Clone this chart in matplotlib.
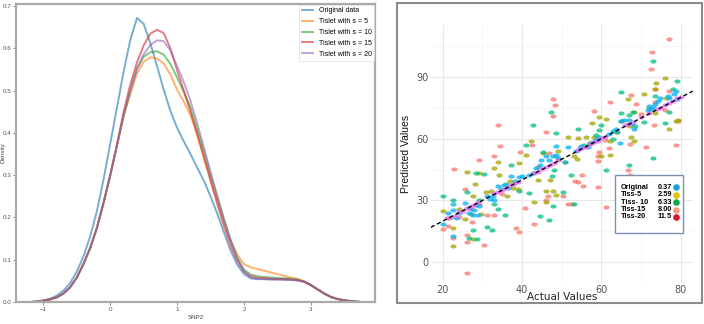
import matplotlib
matplotlib.use("Agg")
import matplotlib.pyplot as plt
from matplotlib.patches import Rectangle
from matplotlib.path import Path
from matplotlib.transforms import Affine2D

# ---------------- left panel: density curves ----------------
snp_x = [-1.2, -1.1, -1.0, -0.9, -0.8, -0.7, -0.6, -0.5, -0.4, -0.3,
         -0.2, -0.1, 0.0, 0.1, 0.2, 0.3, 0.4, 0.5, 0.6, 0.7,
         0.8, 0.9, 1.0, 1.1, 1.2, 1.3, 1.4, 1.5, 1.6, 1.7,
         1.8, 1.9, 2.0, 2.1, 2.2, 2.3, 2.4, 2.5, 2.6, 2.7,
         2.8, 2.9, 3.0, 3.1, 3.2, 3.3, 3.4, 3.5, 3.6, 3.72]

dens_original = [0.0, 0.001, 0.004, 0.008, 0.015, 0.027, 0.045, 0.072, 0.108, 0.155,
                 0.215, 0.29, 0.375, 0.46, 0.545, 0.62, 0.672, 0.658, 0.612, 0.558,
                 0.502, 0.452, 0.412, 0.38, 0.35, 0.318, 0.287, 0.25, 0.209, 0.165,
                 0.122, 0.088, 0.066, 0.056, 0.054, 0.054, 0.054, 0.054, 0.054, 0.053,
                 0.051, 0.048, 0.040, 0.030, 0.020, 0.012, 0.007, 0.004, 0.002, 0.0005]

dens_s5 = [0.0, 0.001, 0.003, 0.006, 0.011, 0.020, 0.035, 0.058, 0.090, 0.128,
           0.175, 0.235, 0.300, 0.370, 0.440, 0.492, 0.540, 0.568, 0.579, 0.576,
           0.564, 0.538, 0.502, 0.474, 0.442, 0.397, 0.343, 0.290, 0.240, 0.190,
           0.146, 0.112, 0.090, 0.082, 0.078, 0.074, 0.070, 0.066, 0.062, 0.058,
           0.055, 0.049, 0.040, 0.030, 0.020, 0.012, 0.007, 0.004, 0.002, 0.0005]

dens_s10 = [0.0, 0.001, 0.003, 0.006, 0.011, 0.020, 0.035, 0.058, 0.090, 0.128,
            0.175, 0.235, 0.300, 0.370, 0.440, 0.500, 0.552, 0.580, 0.591, 0.593,
            0.585, 0.563, 0.531, 0.497, 0.460, 0.410, 0.358, 0.302, 0.248, 0.195,
            0.146, 0.105, 0.077, 0.065, 0.061, 0.059, 0.058, 0.057, 0.056, 0.055,
            0.053, 0.048, 0.040, 0.030, 0.020, 0.012, 0.007, 0.004, 0.002, 0.0005]

dens_s15 = [0.0, 0.001, 0.003, 0.006, 0.011, 0.020, 0.035, 0.058, 0.090, 0.128,
            0.175, 0.235, 0.300, 0.372, 0.450, 0.515, 0.567, 0.607, 0.635, 0.644,
            0.636, 0.600, 0.548, 0.500, 0.450, 0.397, 0.343, 0.287, 0.232, 0.180,
            0.134, 0.097, 0.072, 0.061, 0.057, 0.056, 0.055, 0.054, 0.054, 0.053,
            0.052, 0.048, 0.040, 0.030, 0.020, 0.012, 0.007, 0.004, 0.002, 0.0005]

dens_s20 = [0.0, 0.001, 0.003, 0.006, 0.011, 0.020, 0.035, 0.058, 0.090, 0.128,
            0.175, 0.235, 0.300, 0.370, 0.442, 0.502, 0.552, 0.586, 0.608, 0.619,
            0.617, 0.595, 0.558, 0.520, 0.476, 0.423, 0.366, 0.308, 0.252, 0.197,
            0.146, 0.102, 0.072, 0.058, 0.055, 0.054, 0.053, 0.053, 0.052, 0.052,
            0.051, 0.048, 0.040, 0.030, 0.020, 0.012, 0.007, 0.004, 0.002, 0.0005]

density_series = [
    ("Original data", dens_original, "#1f77b4"),
    ("Tislet with s = 5", dens_s5, "#ff7f0e"),
    ("Tislet with s = 10", dens_s10, "#2ca02c"),
    ("Tislet with s = 15", dens_s15, "#d62728"),
    ("Tislet with s = 20", dens_s20, "#9467bd"),
]

# ---------------- right panel: predicted vs actual ----------------
pts_salmon = [(20, 16), (21.4, 17.6), (22.7, 12), (22.8, 45.2), (25.5, 35.6), (26, 13.5),
              (26, 9.8), (26, -5), (27.4, 19.5), (29.1, 49.4), (29.2, 28.3), (30.3, 8.5),
              (31.1, 23.2), (33, 23.2), (33, 51.4), (33.9, 66.7), (34.5, 56.2), (38.5, 16.7),
              (39.2, 14.8), (39.5, 53.5), (40.8, 26.2), (42.4, 56.7), (42.9, 18.4), (45.9, 63),
              (45.9, 30.4), (46.5, 32), (46.9, 53), (47.8, 79.4), (48.3, 76.2), (47.8, 71),
              (50.3, 32), (51.5, 28.3), (52.6, 28.2), (53.4, 39.3), (54.2, 38.8), (55.4, 37.2),
              (55.1, 42.4), (58.1, 73.4), (59.2, 36.6), (59.1, 51.4), (59.2, 49), (59.5, 53.6),
              (60.8, 59.4), (61.2, 26.7), (62, 55.2), (62.2, 77.8), (66.6, 44.9), (67.1, 42.5),
              (66.6, 67.1), (67.3, 57.2), (67.5, 81.2), (68.7, 76.6), (71.1, 56), (72.6, 93.7),
              (72.8, 101.8), (73.2, 66.5), (73.4, 84.2), (73.5, 77.9), (75.9, 73.9), (77, 83),
              (77.1, 108.2), (78.7, 57), (79.2, 68.5), (24, 22), (27, 26), (35, 33),
              (44, 46), (57, 58), (64, 63), (70, 72)]

pts_olive = [(20, 25), (21.7, 21.6), (22.5, 7.9), (22.7, 16.7), (25.5, 20.8), (26, 44),
             (27, 23.5), (27.6, 11.1), (27.6, 32.4), (28.2, 38.2), (29.1, 43.3), (29.7, 23.5),
             (32.2, 34.5), (32.9, 45.7), (33.9, 48.6), (34.1, 42.5), (36.1, 32), (37, 39.3),
             (37.6, 36.1), (38.9, 35.6), (39.3, 48.1), (41, 51.9), (42.3, 58.6), (42.9, 29.1),
             (44, 40.1), (45.2, 53), (46, 34.5), (45.9, 29.1), (47, 40), (47.7, 34.5),
             (49, 53.8), (49.2, 50), (48.6, 32.9), (50.7, 48.5), (51.5, 60.7), (53.2, 51.4),
             (53.8, 50), (54, 60.2), (56.1, 61), (57.6, 67.5), (58.2, 61), (59.5, 70.4),
             (59.9, 51.4), (61.2, 69.4), (62.2, 52.2), (62.2, 58.6), (65, 68.3), (66.6, 79.2),
             (67.5, 61), (68.3, 73.1), (67.1, 65.9), (68.3, 58.6), (70.8, 81.5), (72.1, 74.7),
             (73.6, 83.9), (73.8, 86.8), (73.6, 72.3), (75.9, 89.5), (76.3, 79.9), (77.1, 64.6),
             (78.8, 68.3), (79.2, 68.8), (31, 34), (24, 26)]

pts_green = [(20, 32.4), (22.7, 30.4), (26, 34), (26.6, 11.9), (27.7, 15.5), (28.7, 11.1),
             (28.3, 43.3), (29.1, 30.4), (30.3, 43), (31.1, 17.1), (32.4, 15.9), (33, 28.5),
             (33.9, 26), (35.8, 23.2), (37.2, 47.2), (39.3, 34.5), (41, 57), (42.7, 66.7),
             (41.8, 33.7), (44.5, 22.4), (45.2, 53.5), (46.7, 20.3), (47.3, 73.1), (47.5, 42),
             (48, 45), (47.9, 27.2), (48.6, 62.6), (50.3, 34.1), (52.4, 42.5), (53.2, 28.5),
             (54.2, 64.7), (55.7, 57), (58.7, 61.8), (59.5, 64.3), (59.9, 66.7), (61.2, 44.9),
             (62.9, 59.9), (65, 82.8), (65, 72.3), (66.9, 71.3), (66.9, 47.3), (67.9, 72.8),
             (68.5, 66), (70.8, 67.8), (72.9, 50.7), (73.1, 97.6), (73.5, 80.4), (75.9, 67.5),
             (76.9, 73.1), (79.1, 88.1), (78, 84), (36, 38), (57, 58), (64, 63)]

pts_blue = [(20, 18.8), (21.3, 23.7), (22.5, 28.5), (22.5, 25.3), (22.7, 13), (23.4, 21.6),
            (24, 24), (25.7, 29), (26.7, 26.4), (26.7, 24), (27.5, 23), (28, 25.3),
            (28.5, 28), (29.2, 27.1), (29, 23), (31.1, 32), (31.8, 30.8), (32.6, 32),
            (33, 30.4), (33.9, 36.9), (34.7, 35.6), (35.5, 37.5), (36.5, 36), (37.2, 41.7),
            (38.2, 39.3), (39.2, 41.5), (40, 41.8), (41.8, 42.5), (42.7, 43.3), (43.5, 45.7),
            (44.4, 47.3), (44.8, 49.4), (46, 51.4), (46.9, 49.8), (47.7, 51.4), (48.6, 56.2),
            (48.6, 52), (49, 50.5), (50.7, 48.5), (51.5, 55.9), (53.6, 53.8), (54.5, 55.4),
            (54.9, 56.5), (56.5, 56), (57.8, 58.3), (58.6, 59.5), (59.5, 60.7), (62, 62),
            (62.8, 63.5), (63.6, 64.8), (64.7, 57.8), (65, 68.3), (65.8, 69.2), (66.9, 69),
            (67.8, 67.2), (68.3, 64.7), (71.7, 74), (72.1, 75.8), (72.6, 74.5), (73.1, 75.3),
            (73.5, 76.6), (74.3, 78), (74.7, 79.5), (76.7, 80.4), (77.1, 79.5), (78.4, 81.8),
            (79.1, 79.1), (78.8, 83.3)]

pts_magenta = [(21, 21.5), (22, 22), (23, 22.7), (24, 24.3), (25, 25), (26, 26.5),
               (27, 27.2), (28, 28), (29, 29.5), (33, 33.5), (34, 34.2), (35, 35.3),
               (36, 36), (37, 37.4), (38, 38.2), (39, 39), (43, 43.4), (44, 44),
               (45, 45.5), (46, 46.2), (47, 47), (48, 48.3), (49, 49.5), (54, 54.3),
               (55, 55.5), (56, 56), (57, 57.5), (58, 58.2), (59, 59), (60, 60.4),
               (61, 61), (66, 66.5), (67, 67.2), (68, 68), (70, 70.3), (72, 72.2),
               (74, 74.5), (75, 75), (76, 76.5), (77, 77.2), (78, 78), (79, 79.5), (80, 80.3)]

scatter_groups = [
    (pts_salmon, "#F8766D"),
    (pts_olive, "#A3A500"),
    (pts_green, "#00BF7D"),
    (pts_blue, "#00B0F6"),
    (pts_magenta, "#E76BF3"),
]

ref_line_x = [17, 83]
ref_line_y = [17, 83]

error_labels = ["Original", "Tiss-5", "Tiss- 10", "Tiss-15", "Tiss-20"]
error_values = ["0.37", "2.59", "6.33", "8.00", "11.5"]
error_colors = ["#1f9de0", "#e3c000", "#12a84a", "#f79a7a", "#e0102a"]

# ---------------- figure ----------------
plt.rcParams['font.family'] = ['Liberation Sans Narrow', 'Liberation Sans', 'DejaVu Sans']
fig = plt.figure(figsize=(7.04, 3.24), dpi=100)

ax1 = fig.add_axes([0.0227, 0.0679, 0.51, 0.9198])
for label, ys, col in density_series:
    ax1.plot(snp_x, ys, color=col, alpha=0.6, lw=1.4, label=label)
ax1.set_xlim(-1.41, 3.96)
ax1.set_ylim(0, 0.705)
ax1.set_xticks([-1, 0, 1, 2, 3])
ax1.set_yticks([0.0, 0.1, 0.2, 0.3, 0.4, 0.5, 0.6, 0.7])
ax1.tick_params(labelsize=4.5, length=2, width=0.5, colors="#555555", pad=1.5)
ax1.set_xlabel("SNP2", fontsize=4.5, color="#444444", labelpad=2)
ax1.set_ylabel("Density", fontsize=4.5, color="#444444", labelpad=0)
ax1.yaxis.set_label_coords(-0.03, 0.5)
for sp in ax1.spines.values():
    sp.set_color("#aaaaaa")
    sp.set_linewidth(1.6)
leg = ax1.legend(loc="upper right", fontsize=5, frameon=True, handlelength=1.6,
                 borderaxespad=0.1, labelspacing=0.55, fancybox=False)
leg.get_frame().set_edgecolor("#dddddd")
leg.get_frame().set_linewidth(0.6)

# outer frame of right panel
fig.add_artist(Rectangle((0.564, 0.0648), 0.433, 0.926, transform=fig.transFigure,
                         fill=False, edgecolor="#8a8a8a", lw=1.5))

ax2 = fig.add_axes([0.612, 0.1265, 0.372, 0.796])
oval = Path.unit_circle().transformed(Affine2D().scale(1.5, 1.0))
for pts, col in scatter_groups:
    xs = [p[0] for p in pts]
    ys = [p[1] for p in pts]
    ax2.scatter(xs, ys, s=20, marker=oval, color=col, alpha=0.75, linewidths=0, zorder=3)
ax2.plot(ref_line_x, ref_line_y, color="black", ls=(0, (3, 2)), lw=1.0, zorder=4)
ax2.set_xlim(17, 83)
ax2.set_ylim(-10, 115)
ax2.set_xticks([20, 40, 60, 80])
ax2.set_yticks([0, 30, 60, 90])
ax2.set_xticks([30, 50, 70], minor=True)
ax2.set_yticks([15, 45, 75, 105], minor=True)
ax2.grid(which="major", color="#e8e8e8", lw=0.8, zorder=0)
ax2.grid(which="minor", color="#f3f3f3", lw=0.5, zorder=0)
ax2.tick_params(which="both", length=0, labelsize=7, colors="#555555", pad=1.5)
for lab in ax2.get_xticklabels() + ax2.get_yticklabels():
    lab.set_family("DejaVu Sans")
for sp in ax2.spines.values():
    sp.set_visible(False)
ax2.set_xlabel("Actual Values", fontsize=7.5, family="DejaVu Sans", color="#222222")
ax2.xaxis.set_label_coords(0.5, -0.036)
ax2.set_ylabel("Predicted Values", fontsize=7.5, color="#111111", labelpad=4)

# error summary box
ax2.add_patch(Rectangle((0.702, 0.194), 0.26, 0.225, transform=ax2.transAxes,
                        fill=True, facecolor="white", edgecolor="#7d8fb5", lw=1.0, zorder=5))
for i, (lab, val, col) in enumerate(zip(error_labels, error_values, error_colors)):
    yy = 0.372 - i * 0.029
    ax2.text(0.725, yy, lab, transform=ax2.transAxes, fontsize=5.3, fontweight="bold",
             family="Liberation Sans", va="center", zorder=6)
    ax2.text(0.92, yy, val, transform=ax2.transAxes, fontsize=5.3, fontweight="bold",
             family="Liberation Sans", va="center", ha="right", zorder=6)
    ax2.scatter([0.937], [yy], transform=ax2.transAxes, s=14, color=col, zorder=6,
                clip_on=False)

fig.savefig("out.png", dpi=100)
